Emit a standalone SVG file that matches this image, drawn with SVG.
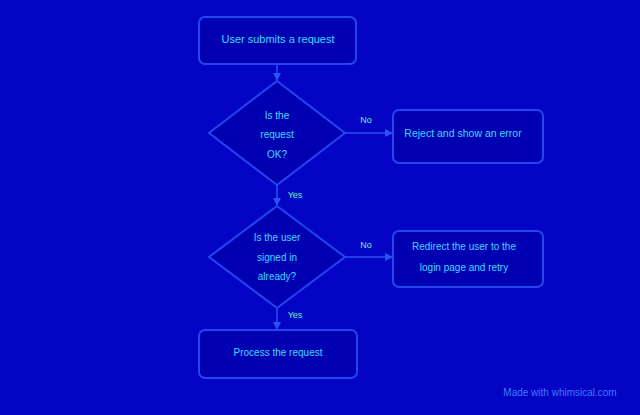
<svg xmlns="http://www.w3.org/2000/svg" width="640" height="415" viewBox="0 0 640 415">
<style>
.bg{fill:#0404c4}
.node{fill:#0000b2;stroke:#2446f0;stroke-width:2}
.t{font-family:"Liberation Sans",Arial,sans-serif;font-size:10px;fill:#3cd8ff;text-anchor:middle;dominant-baseline:middle}
.lbl{font-family:"Liberation Sans",Arial,sans-serif;font-size:9px;fill:#6af0c0;text-anchor:middle;dominant-baseline:middle}
.wm{font-family:"Liberation Sans",Arial,sans-serif;font-size:10px;fill:#3a7cff;text-anchor:middle;dominant-baseline:middle}
.edge{stroke:#2a52f4;stroke-width:1.5;fill:none}
</style>
<defs>
<marker id="arr" markerWidth="8" markerHeight="8" refX="7" refY="4" orient="auto" markerUnits="userSpaceOnUse">
<path d="M0,0 L8,4 L0,8 z" fill="#2a52f4"/>
</marker>
</defs>
<rect class="bg" x="0" y="0" width="640" height="415"/>
<g id="connectors">
<path class="edge" d="M277,64 L277,80" marker-end="url(#arr)"/>
<path class="edge" d="M345,133 L392,133" marker-end="url(#arr)"/>
<path class="edge" d="M277,185 L277,205" marker-end="url(#arr)"/>
<path class="edge" d="M345,257 L392,257" marker-end="url(#arr)"/>
<path class="edge" d="M277,309 L277,329" marker-end="url(#arr)"/>
<text class="lbl" x="366" y="121">No</text>
<text class="lbl" x="295" y="196">Yes</text>
<text class="lbl" x="366" y="246">No</text>
<text class="lbl" x="295" y="316">Yes</text>
</g>
<g id="start">
<rect class="node" x="199" y="17" width="157" height="47" rx="6"/>
<text class="t" x="278" y="40" style="font-size:11px">User submits a request</text>
</g>
<g id="check1">
<polygon class="node" points="277,81 345,133 277,185 209,133"/>
<text class="t" x="277" y="116">Is the</text>
<text class="t" x="277" y="135">request</text>
<text class="t" x="277" y="155">OK?</text>
</g>
<g id="reject">
<rect class="node" x="393" y="110" width="150" height="53" rx="6"/>
<text class="t" x="463" y="134" style="font-size:10.5px">Reject and show an error</text>
</g>
<g id="check2">
<polygon class="node" points="277,206 345,257 277,308 209,257"/>
<text class="t" x="277" y="238">Is the user</text>
<text class="t" x="277" y="258">signed in</text>
<text class="t" x="277" y="277">already?</text>
</g>
<g id="redirect">
<rect class="node" x="393" y="231" width="150" height="56" rx="6"/>
<text class="t" x="464" y="247">Redirect the user to the</text>
<text class="t" x="464" y="268">login page and retry</text>
</g>
<g id="process">
<rect class="node" x="199" y="330" width="158" height="48" rx="6"/>
<text class="t" x="278" y="353">Process the request</text>
</g>
<text class="wm" x="560" y="393">Made with whimsical.com</text>
</svg>
